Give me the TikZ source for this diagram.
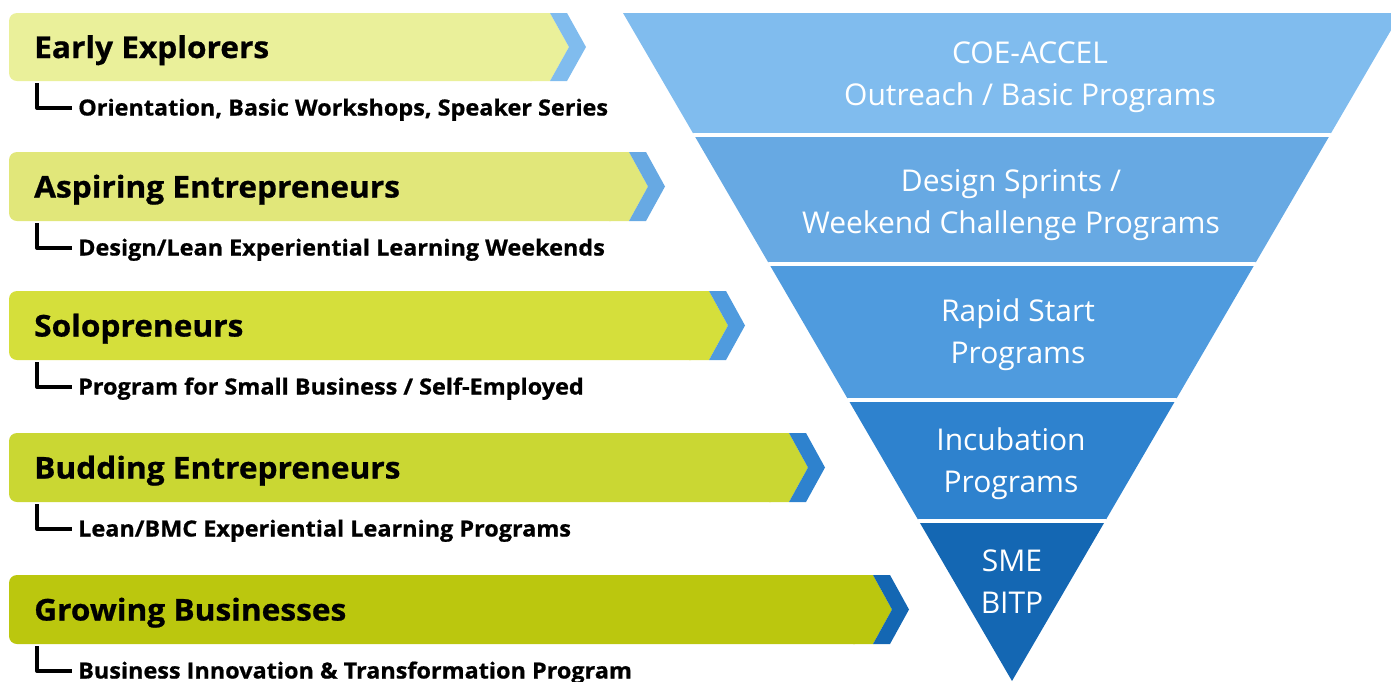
\documentclass[tikz,border=0pt]{standalone}
\usepackage{fontspec}
\setmainfont{Open Sans}
\newfontfamily\heavyfont[FakeStretch=1.055,FakeBold=0.8]{Open Sans}
\usepackage{tikz}
\usetikzlibrary{calc}

\definecolor{limeA}{HTML}{EAF09A}
\definecolor{limeB}{HTML}{E1E77A}
\definecolor{limeC}{HTML}{D5DF3B}
\definecolor{limeD}{HTML}{CAD733}
\definecolor{limeE}{HTML}{BBC70E}
\definecolor{blueA}{HTML}{80BCEE}
\definecolor{blueB}{HTML}{67A9E3}
\definecolor{blueC}{HTML}{4F9BDE}
\definecolor{blueD}{HTML}{2E82CE}
\definecolor{blueE}{HTML}{1467B3}

\begin{document}
\begin{tikzpicture}[
    x=1pt,y=-1pt,
    title/.style={anchor=base west,inner sep=0pt,font=\fontsize{30}{36}\selectfont\heavyfont\bfseries},
    sub/.style={anchor=base west,inner sep=0pt,font=\fontsize{22.2}{26}\selectfont\heavyfont\bfseries},
    elbow/.style={line width=4pt,line join=round},
    level/.style={white,align=center,inner sep=0pt,font=\fontsize{30}{42}\selectfont},
    sep/.style={white,line width=4pt,line cap=round}
    ]
    \clip (0,0) rectangle (1391,681);

    % bars on the left
    \fill[limeA,rounded corners=8] (9,13) rectangle (540,81);
    \fill[limeA] (530,13) -- (550,13) -- (569,47) -- (550,81) -- (530,81) -- cycle;
    \fill[blueA] (550,13) -- (567,13) -- (586,47) -- (567,81) -- (550,81) -- (569,47) -- cycle;

    \fill[limeB,rounded corners=8] (9,152) rectangle (619,221);
    \fill[limeB] (609,152) -- (629,152) -- (648,186.5) -- (629,221) -- (609,221) -- cycle;
    \fill[blueB] (629,152) -- (646,152) -- (665,186.5) -- (646,221) -- (629,221) -- (648,186.5) -- cycle;

    \fill[limeC,rounded corners=8] (9,291) rectangle (699,360);
    \fill[limeC] (689,291) -- (709,291) -- (728,325.5) -- (709,360) -- (689,360) -- cycle;
    \fill[blueC] (709,291) -- (726,291) -- (745,325.5) -- (726,360) -- (709,360) -- (728,325.5) -- cycle;

    \fill[limeD,rounded corners=8] (9,433) rectangle (779,502);
    \fill[limeD] (769,433) -- (789,433) -- (808,467.5) -- (789,502) -- (769,502) -- cycle;
    \fill[blueD] (789,433) -- (806,433) -- (825,467.5) -- (806,502) -- (789,502) -- (808,467.5) -- cycle;

    \fill[limeE,rounded corners=8] (9,575) rectangle (863,644);
    \fill[limeE] (853,575) -- (873,575) -- (892,609.5) -- (873,644) -- (853,644) -- cycle;
    \fill[blueE] (873,575) -- (890,575) -- (909,609.5) -- (890,644) -- (873,644) -- (892,609.5) -- cycle;

    \node[title] (t1) at (34,58) {Early Explorers};
    \node[title] (t2) at (34,197.5) {Aspiring Entrepreneurs};
    \node[title] (t3) at (34,336.5) {Solopreneurs};
    \node[title] (t4) at (34,478.5) {Budding Entrepreneurs};
    \node[title] (t5) at (34,620.5) {Growing Businesses};

    \node[sub] (s1) at (78,115.5) {Orientation, Basic Workshops, Speaker Series};
    \node[sub] (s2) at (78,255.5) {Design/Lean Experiential Learning Weekends};
    \node[sub] (s3) at (78,394.5) {Program for Small Business / Self-Employed};
    \node[sub] (s4) at (78,536.5) {Lean/BMC Experiential Learning Programs};
    \node[sub] (s5) at (78,678.5) {Business Innovation \& Transformation Program};

    \coordinate (k1) at (37,83);
    \coordinate (k2) at (37,223);
    \coordinate (k3) at (37,362);
    \coordinate (k4) at (37,504);
    \coordinate (k5) at (37,646);
    \draw[elbow] (k1) |- ([xshift=-6pt,yshift=7.5pt]s1.base west);
    \draw[elbow] (k2) |- ([xshift=-6pt,yshift=7.5pt]s2.base west);
    \draw[elbow] (k3) |- ([xshift=-6pt,yshift=7.5pt]s3.base west);
    \draw[elbow] (k4) |- ([xshift=-6pt,yshift=7.5pt]s4.base west);
    \draw[elbow] (k5) |- ([xshift=-6pt,yshift=7.5pt]s5.base west);

    % funnel
    \coordinate (tl) at (623,13);
    \coordinate (tr) at (1401,13);
    \coordinate (ap) at (1012,681);
    \fill[blueA] (tl) -- (tr) -- ($(tr)!0.1826!(ap)$) -- ($(tl)!0.1826!(ap)$) -- cycle;
    \fill[blueB] ($(tl)!0.1826!(ap)$) -- ($(tr)!0.1826!(ap)$) -- ($(tr)!0.3757!(ap)$) -- ($(tl)!0.3757!(ap)$) -- cycle;
    \fill[blueC] ($(tl)!0.3757!(ap)$) -- ($(tr)!0.3757!(ap)$) -- ($(tr)!0.5793!(ap)$) -- ($(tl)!0.5793!(ap)$) -- cycle;
    \fill[blueD] ($(tl)!0.5793!(ap)$) -- ($(tr)!0.5793!(ap)$) -- ($(tr)!0.7605!(ap)$) -- ($(tl)!0.7605!(ap)$) -- cycle;
    \fill[blueE] ($(tl)!0.7605!(ap)$) -- ($(tr)!0.7605!(ap)$) -- (ap) -- cycle;
    \draw[sep] ($(tl)!0.1826!(ap)$) -- ($(tr)!0.1826!(ap)$);
    \draw[sep] ($(tl)!0.3757!(ap)$) -- ($(tr)!0.3757!(ap)$);
    \draw[sep] ($(tl)!0.5793!(ap)$) -- ($(tr)!0.5793!(ap)$);
    \draw[sep] ($(tl)!0.7605!(ap)$) -- ($(tr)!0.7605!(ap)$);

    \node[level] (f1) at (1030,77.5) {COE-ACCEL\\Outreach / Basic Programs};
    \node[level] (f2) at (1011,205) {Design Sprints /\\Weekend Challenge Programs};
    \node[level] (f3) at (1018,334.5) {Rapid Start\\Programs};
    \node[level] (f4) at (1011,464) {Incubation\\Programs};
    \node[level] (f5) at (1012,581.5) {SME\\BITP};
  \end{tikzpicture}
\end{document}
